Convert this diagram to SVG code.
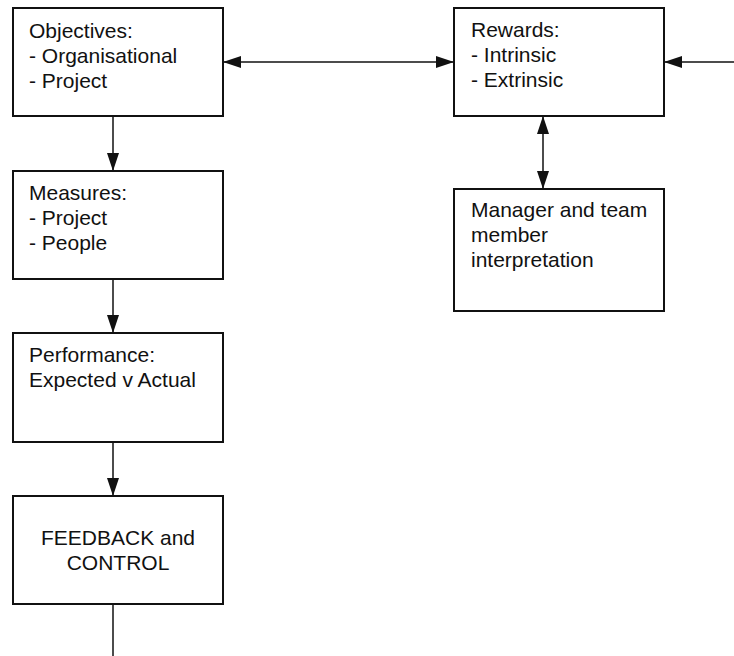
<svg xmlns="http://www.w3.org/2000/svg" width="734" height="656" viewBox="0 0 734 656">
  <style>
    .box { fill: #ffffff; stroke: #111111; stroke-width: 2; }
    .lbl { font-family: "Liberation Sans", Arial, Helvetica, sans-serif; font-size: 21px; fill: #111111; }
    .mid { text-anchor: middle; }
    .link { stroke: #111111; stroke-width: 1.5; fill: none; }
  </style>
  <defs>
    <marker id="head" viewBox="0 0 18 12" refX="18" refY="6" markerWidth="18" markerHeight="12" markerUnits="userSpaceOnUse" orient="auto-start-reverse">
      <path d="M0,0 L18,6 L0,12 Z" fill="#111111"/>
    </marker>
  </defs>
  <rect width="734" height="656" fill="#ffffff"/>

  <g id="connectors">
    <line class="link" x1="113" y1="116" x2="113" y2="171" marker-end="url(#head)"/>
    <line class="link" x1="113" y1="279" x2="113" y2="333" marker-end="url(#head)"/>
    <line class="link" x1="113" y1="442" x2="113" y2="496" marker-end="url(#head)"/>
    <line class="link" x1="113" y1="604" x2="113" y2="656"/>
    <line class="link" x1="223" y1="62" x2="454" y2="62" marker-start="url(#head)" marker-end="url(#head)"/>
    <line class="link" x1="734" y1="62" x2="664" y2="62" marker-end="url(#head)"/>
    <line class="link" x1="543" y1="116" x2="543" y2="189" marker-start="url(#head)" marker-end="url(#head)"/>
  </g>

  <g id="objectives">
    <rect class="box" x="13" y="8" width="210" height="108"/>
    <text class="lbl" x="29" y="38">Objectives:</text>
    <text class="lbl" x="29" y="63">- Organisational</text>
    <text class="lbl" x="29" y="88">- Project</text>
  </g>

  <g id="measures">
    <rect class="box" x="13" y="171" width="210" height="108"/>
    <text class="lbl" x="29" y="200">Measures:</text>
    <text class="lbl" x="29" y="225">- Project</text>
    <text class="lbl" x="29" y="250">- People</text>
  </g>

  <g id="performance">
    <rect class="box" x="13" y="333" width="210" height="109"/>
    <text class="lbl" x="29" y="362">Performance:</text>
    <text class="lbl" x="29" y="387">Expected v Actual</text>
  </g>

  <g id="feedback">
    <rect class="box" x="13" y="496" width="210" height="108"/>
    <text class="lbl mid" x="118" y="545">FEEDBACK and</text>
    <text class="lbl mid" x="118" y="570">CONTROL</text>
  </g>

  <g id="rewards">
    <rect class="box" x="454" y="8" width="210" height="108"/>
    <text class="lbl" x="471" y="37">Rewards:</text>
    <text class="lbl" x="471" y="62">- Intrinsic</text>
    <text class="lbl" x="471" y="87">- Extrinsic</text>
  </g>

  <g id="interpretation">
    <rect class="box" x="454" y="189" width="210" height="122"/>
    <text class="lbl" x="471" y="217">Manager and team</text>
    <text class="lbl" x="471" y="242">member</text>
    <text class="lbl" x="471" y="267">interpretation</text>
  </g>
</svg>
